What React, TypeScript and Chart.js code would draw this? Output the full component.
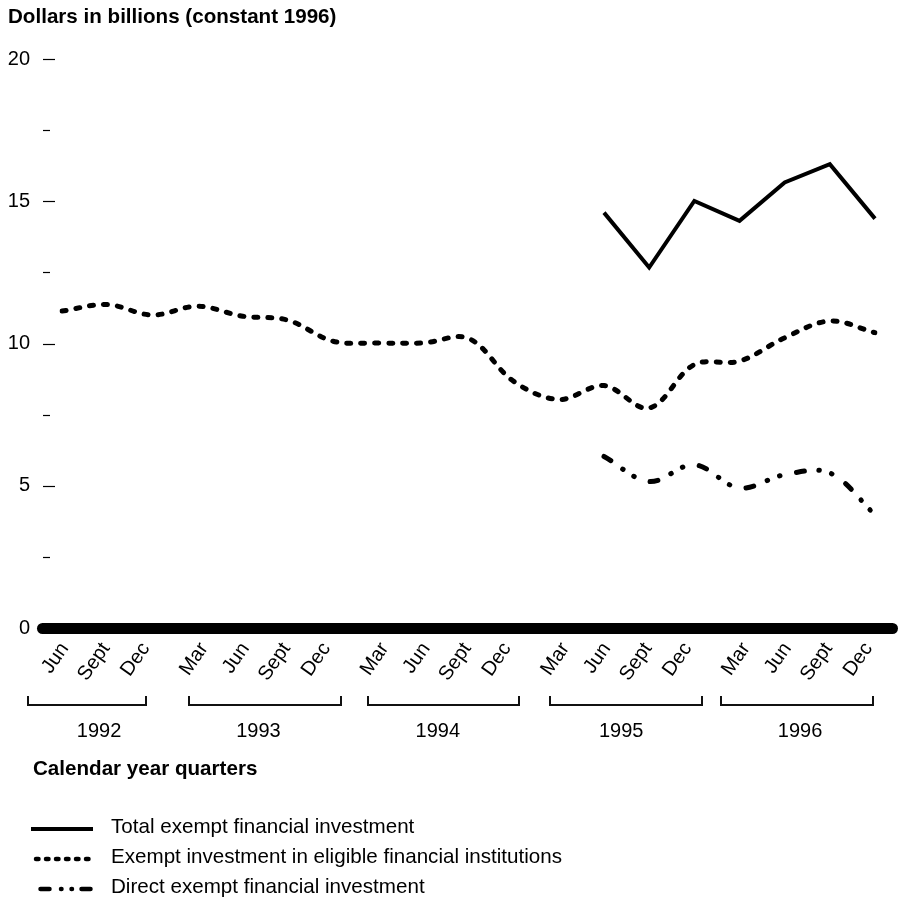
import React, { useEffect, useRef } from 'react';
import { Chart, registerables } from 'chart.js';

Chart.register(...registerables);

// ---------- data ----------
const quarterLabels = [
  'Jun', 'Sept', 'Dec',
  'Mar', 'Jun', 'Sept', 'Dec',
  'Mar', 'Jun', 'Sept', 'Dec',
  'Mar', 'Jun', 'Sept', 'Dec',
  'Mar', 'Jun', 'Sept', 'Dec',
];

const totalExempt = [
  null, null, null, null, null, null, null, null, null, null, null, null,
  14.6, 12.67, 15.01, 14.31, 15.66, 16.3, 14.39,
];

const eligibleInstitutions = [
  11.14, 11.37, 11.0, 11.31, 10.96, 10.82, 10.08, 10.02, 10.02, 10.18,
  8.67, 8.03, 8.52, 7.73, 9.26, 9.38, 10.2, 10.79, 10.38,
];

const directExempt = [
  null, null, null, null, null, null, null, null, null, null, null, null,
  6.03, 5.15, 5.74, 4.92, 5.39, 5.45, 3.98,
];

const yearLabels = ['1992', '1993', '1994', '1995', '1996'];

const seriesNames = [
  'Total exempt financial investment',
  'Exempt investment in eligible financial institutions',
  'Direct exempt financial investment',
];

const yAxisTitle = 'Dollars in billions (constant 1996)';
const xAxisTitle = 'Calendar year quarters';

// ---------- layout ----------
// year brackets and year-label centres, in category-index units
const bracketSpans = [
  [-0.75, 1.86],
  [2.81, 6.18],
  [6.77, 10.12],
  [10.8, 14.17],
  [14.59, 17.95],
];
const yearLabelPos = [0.82, 4.35, 8.32, 12.38, 16.34];
// small horizontal nudge of each quarter label (px), labels are grouped per year
const quarterNudge: Record<string, number> = { Mar: 6.5, Jun: 2.7, Sept: -1.3, Dec: -6.6 };

const FONT = '"Liberation Sans", Arial, Helvetica, sans-serif';

const dotDash = [4, 10];
const dashDotDot = [8, 14.5, 0.5, 12.7, 0.5, 16.8];

const legendStyles = [
  { width: 4, dash: [] as number[], cap: 'butt' as CanvasLineCap, x1: 31, x2: 93 },
  { width: 4.5, dash: [2.5, 7.5], cap: 'round' as CanvasLineCap, x1: 36, x2: 93 },
  { width: 4.5, dash: [9, 11.5, 0.5, 10, 0.5, 9.5], cap: 'round' as CanvasLineCap, x1: 40.5, x2: 92 },
];
const legendRows = [827, 857, 887];

const decorPlugin = {
  id: 'decor',
  beforeDatasetsDraw(chart: any) {
    const { ctx, chartArea, scales } = chart;
    const y = scales.y;
    ctx.save();
    ctx.strokeStyle = '#000';
    ctx.lineWidth = 1.2;
    ctx.lineCap = 'butt';
    y.ticks.forEach((t: any) => {
      if (t.value === 0) return;
      const py = Math.round(y.getPixelForValue(t.value)) + 0.5;
      const major = t.value % 5 === 0;
      ctx.beginPath();
      ctx.moveTo(chartArea.left - 19, py);
      ctx.lineTo(chartArea.left - (major ? 7 : 12), py);
      ctx.stroke();
    });
    const y0 = y.getPixelForValue(0) + 0.5;
    ctx.lineWidth = 11;
    ctx.lineCap = 'round';
    ctx.beginPath();
    ctx.moveTo(chartArea.left - 19.5, y0);
    ctx.lineTo(chartArea.right + 17.5, y0);
    ctx.stroke();
    ctx.restore();
  },
  afterDraw(chart: any) {
    const { ctx, scales } = chart;
    const x = scales.x;
    const y = scales.y;
    const x0 = x.getPixelForValue(0);
    const step = x.getPixelForValue(1) - x0;
    const px = (i: number) => x0 + i * step;
    const base = y.getPixelForValue(0);
    ctx.save();
    ctx.fillStyle = '#000';
    ctx.strokeStyle = '#111';
    // quarter labels (rotated), positioned from the category scale
    ctx.font = `20px ${FONT}`;
    ctx.textAlign = 'right';
    ctx.textBaseline = 'middle';
    x.ticks.forEach((t: any, i: number) => {
      const lab = quarterLabels[t.value] ?? quarterLabels[i];
      const ax = x.getPixelForTick(i) + (quarterNudge[lab] || 0);
      ctx.save();
      ctx.translate(ax, base + 17);
      ctx.rotate((-55 * Math.PI) / 180);
      ctx.fillText(lab, 0, 0);
      ctx.restore();
    });
    // axis titles
    ctx.font = `bold 20.6px ${FONT}`;
    ctx.textAlign = 'left';
    ctx.textBaseline = 'alphabetic';
    ctx.fillText(yAxisTitle, 8, 23);
    ctx.fillText(xAxisTitle, 33, 775);
    // year brackets
    ctx.lineWidth = 2;
    ctx.lineCap = 'butt';
    ctx.lineJoin = 'miter';
    bracketSpans.forEach(([a, b]) => {
      const xa = Math.round(px(a));
      const xb = Math.round(px(b));
      ctx.beginPath();
      ctx.moveTo(xa, base + 68);
      ctx.lineTo(xa, base + 77);
      ctx.lineTo(xb, base + 77);
      ctx.lineTo(xb, base + 68);
      ctx.stroke();
    });
    ctx.font = `20px ${FONT}`;
    ctx.textAlign = 'center';
    yearLabels.forEach((lab, i) => {
      ctx.fillText(lab, px(yearLabelPos[i]), base + 109);
    });
    // legend
    ctx.font = `20.6px ${FONT}`;
    ctx.strokeStyle = '#000';
    legendStyles.forEach((s, i) => {
      const ly = legendRows[i];
      ctx.lineWidth = s.width;
      ctx.lineCap = s.cap;
      ctx.setLineDash(s.dash);
      ctx.beginPath();
      ctx.moveTo(s.x1, ly + 2);
      ctx.lineTo(s.x2, ly + 2);
      ctx.stroke();
      ctx.setLineDash([]);
      ctx.textAlign = 'left';
      ctx.textBaseline = 'middle';
      ctx.fillText(seriesNames[i], 111, ly);
    });
    ctx.restore();
  },
};

export default function App() {
  const ref = useRef<HTMLCanvasElement | null>(null);
  useEffect(() => {
    document.body.style.margin = '0';
    document.body.style.overflow = 'hidden';
    const canvas = ref.current;
    if (!canvas) return;
    const chart = new Chart(canvas, {
      type: 'line',
      data: {
        labels: quarterLabels,
        datasets: [
          {
            label: seriesNames[0],
            data: totalExempt,
            borderColor: '#000',
            borderWidth: 4,
            tension: 0,
            pointRadius: 0,
            fill: false,
            spanGaps: false,
          },
          {
            label: seriesNames[1],
            data: eligibleInstitutions,
            borderColor: '#000',
            borderWidth: 5,
            borderDash: dotDash,
            borderCapStyle: 'round',
            tension: 0.35,
            pointRadius: 0,
            fill: false,
          },
          {
            label: seriesNames[2],
            data: directExempt,
            borderColor: '#000',
            borderWidth: 5,
            borderDash: dashDotDot,
            borderCapStyle: 'round',
            tension: 0.35,
            pointRadius: 0,
            fill: false,
            spanGaps: false,
          },
        ],
      },
      options: {
        responsive: false,
        animation: false,
        devicePixelRatio: 1,
        layout: { padding: { left: 0, right: 27, top: 59, bottom: 189 } },
        plugins: {
          legend: { display: false },
          title: { display: false },
          tooltip: { enabled: false },
        },
        scales: {
          x: {
            type: 'category',
            grid: { display: false },
            border: { display: false },
            ticks: {
              display: false,
              autoSkip: false,
            },
            afterFit: (s: any) => {
              s.height = 100;
            },
          },
          y: {
            min: 0,
            max: 20,
            grid: { display: false },
            border: { display: false },
            ticks: {
              stepSize: 2.5,
              autoSkip: false,
              padding: 24,
              color: '#000',
              font: { family: FONT, size: 20 },
              callback: (v: any) => (Number(v) % 5 === 0 ? String(v) : ''),
            },
            afterFit: (s: any) => {
              s.width = 62;
            },
          },
        },
      },
      plugins: [decorPlugin],
    });
    return () => chart.destroy();
  }, []);
  return <canvas ref={ref} width={902} height={917} style={{ display: 'block' }} />;
}
